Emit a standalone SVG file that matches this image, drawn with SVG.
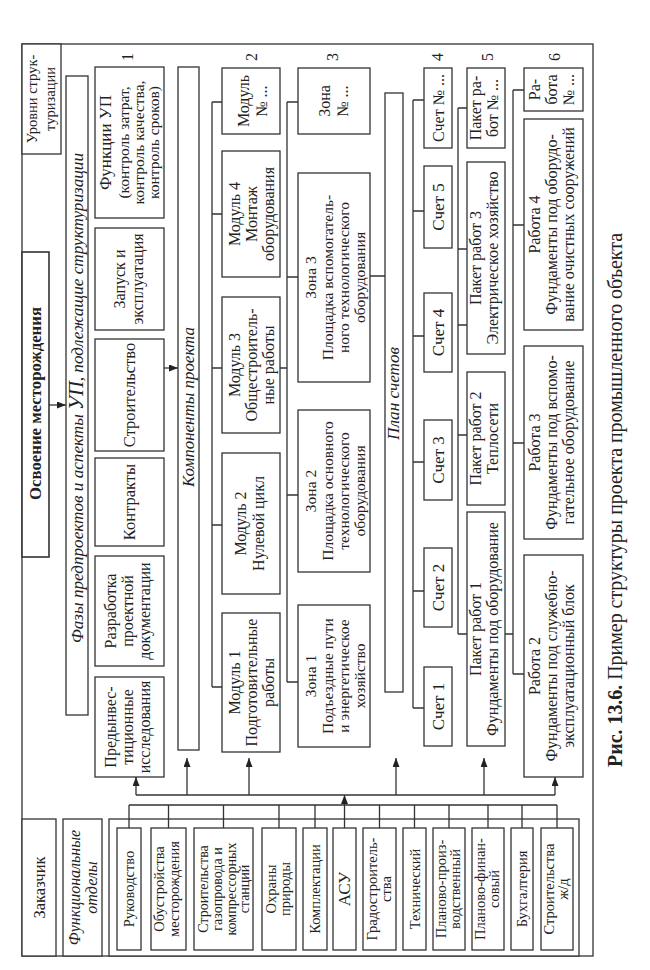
<svg xmlns="http://www.w3.org/2000/svg" width="650" height="970" viewBox="0 0 650 970">
<defs>
<style>
.b{fill:#fff;stroke:#333;stroke-width:1.3}
.c{fill:none;stroke:#333;stroke-width:1.3}
.r{font-family:"Liberation Serif","Times New Roman",serif;fill:#222;text-anchor:middle;font-size:16px}
.r path,.r rect{fill:#fff}
.r .c{fill:none}
.i{font-style:italic;font-size:17.5px}
.d{font-size:14.5px}
.s{font-size:14px}
.z{font-size:15.5px}
</style>
<marker id="ah" viewBox="0 0 9 7" refX="9" refY="3.5" markerWidth="9" markerHeight="7" markerUnits="userSpaceOnUse" orient="auto"><path d="M0,0 L9,3.5 L0,7 z" fill="#222"/></marker>
</defs>
<rect width="650" height="970" fill="#fff"/>
<g class="r" transform="translate(0,970) rotate(-90)">
<rect class="b" x="14" y="22" width="912" height="571" style="fill:none"/>
<g id="levels"><rect class="b" x="816" y="22" width="110" height="39"/><text x="871" y="37" font-size="14.5">Уровни струк-</text><text x="871" y="55" font-size="14.5">туризации</text></g>
<g id="nums"><text x="913" y="133">1</text><text x="913" y="257">2</text><text x="913" y="338">3</text><text x="913" y="443">4</text><text x="913" y="493">5</text><text x="913" y="560">6</text></g>
<g id="osvoenie"><rect class="b" x="413" y="22" width="305" height="27" style="stroke-width:1.6"/><text x="566.5" y="41" font-weight="bold" font-size="16.5" textLength="193" lengthAdjust="spacingAndGlyphs">Освоение месторождения</text></g>
<g id="phases"><rect class="b" x="255" y="66" width="639" height="22"/><text x="572" y="83" font-style="italic" font-size="17.5" textLength="490" lengthAdjust="spacingAndGlyphs">Фазы предпроектов и аспекты <tspan font-size="21">УП</tspan>, подлежащие структуризации</text></g>
<g id="funcs"><rect class="b" x="752" y="95" width="151" height="69"/><text x="827.5" y="111" font-size="17">Функции УП</text><text x="827.5" y="129" font-size="15.5">(контроль затрат,</text><text x="827.5" y="144" font-size="15.5">контроль качества,</text><text x="827.5" y="159" font-size="15.5">контроль сроков)</text></g>
<g id="zapusk"><rect class="b" x="640" y="95" width="102" height="69"/><text x="691" y="125">Запуск и</text><text x="691" y="143">эксплуатация</text></g>
<g id="stroit"><rect class="b" x="519" y="95" width="112" height="69"/><text x="575" y="135" font-size="16.5">Строительство</text></g>
<g id="kontr"><rect class="b" x="424" y="95" width="88" height="69"/><text x="468" y="135" font-size="16.5">Контракты</text></g>
<g id="razrab"><rect class="b" x="304" y="95" width="110" height="69"/><text x="359" y="116">Разработка</text><text x="359" y="133">проектной</text><text x="359" y="150">документации</text></g>
<g id="predinv"><rect class="b" x="193" y="95" width="100" height="69"/><text x="243" y="116">Предынвес-</text><text x="243" y="133">тиционные</text><text x="243" y="150">исследования</text></g>
<g id="components"><rect class="b" x="220" y="178" width="683" height="21"/><text class="i" x="563" y="194" textLength="160" lengthAdjust="spacingAndGlyphs">Компоненты проекта</text></g>
<g id="modN"><rect class="b" x="836" y="222" width="66" height="58"/><text x="869" y="249">Модуль</text><text x="869" y="267">№ ...</text></g>
<g id="mod4"><rect class="b" x="693" y="222" width="126" height="58"/><text x="756" y="240">Модуль 4</text><text x="756" y="257">Монтаж</text><text x="756" y="274">оборудования</text></g>
<g id="mod3"><rect class="b" x="537" y="222" width="136" height="58"/><text x="605" y="240">Модуль 3</text><text x="605" y="257">Общестроитель-</text><text x="605" y="274">ные работы</text></g>
<g id="mod2"><rect class="b" x="376" y="222" width="141" height="58"/><text x="446.5" y="246">Модуль 2</text><text x="446.5" y="264">Нулевой цикл</text></g>
<g id="mod1"><rect class="b" x="218" y="222" width="139" height="58"/><text x="287.5" y="240">Модуль 1</text><text x="287.5" y="257">Подготовительные</text><text x="287.5" y="274">работы</text></g>
<g id="zoneN"><rect class="b" x="836" y="298" width="66" height="72"/><text x="869" y="330">Зона</text><text x="869" y="348">№ ...</text></g>
<g id="zone3"><rect class="b" x="588" y="298" width="209" height="72"/><text class="z" x="692.5" y="316">Зона 3</text><text class="z" x="692.5" y="333">Площадка вспомогатель-</text><text class="z" x="692.5" y="349">ного технологического</text><text class="z" x="692.5" y="365">оборудования</text></g>
<g id="zone2"><rect class="b" x="398" y="298" width="162" height="72"/><text class="z" x="479" y="316">Зона 2</text><text class="z" x="479" y="333">Площадка основного</text><text class="z" x="479" y="349">технологического</text><text class="z" x="479" y="365">оборудования</text></g>
<g id="zone1"><rect class="b" x="223" y="298" width="142" height="72"/><text class="z" x="294" y="316">Зона 1</text><text class="z" x="294" y="333">Подъездные пути</text><text class="z" x="294" y="349">и энергетическое</text><text class="z" x="294" y="365">хозяйство</text></g>
<g id="plan"><rect class="b" x="278" y="385" width="599" height="18"/><text class="i" x="576.5" y="399" textLength="93" lengthAdjust="spacingAndGlyphs">План счетов</text></g>
<g id="accN"><rect class="b" x="822" y="424" width="80" height="28"/><text x="862" y="444">Счет № ...</text></g>
<g id="acc5"><rect class="b" x="722" y="424" width="82" height="28"/><text x="763" y="444" font-size="17">Счет 5</text></g>
<g id="acc4"><rect class="b" x="598" y="424" width="79" height="28"/><text x="637.5" y="444" font-size="17">Счет 4</text></g>
<g id="acc3"><rect class="b" x="470" y="424" width="80" height="28"/><text x="510" y="444" font-size="17">Счет 3</text></g>
<g id="acc2"><rect class="b" x="343" y="424" width="79" height="28"/><text x="382.5" y="444" font-size="17">Счет 2</text></g>
<g id="acc1"><rect class="b" x="224" y="424" width="79" height="28"/><text x="263.5" y="444" font-size="17">Счет 1</text></g>
<g id="pakN"><rect class="b" x="822" y="467" width="80" height="38"/><text x="862" y="481">Пакет ра-</text><text x="862" y="498">бот № ...</text></g>
<g id="pak3"><rect class="b" x="616" y="467" width="192" height="38"/><text x="712" y="481">Пакет работ 3</text><text x="712" y="498">Электрическое хозяйство</text></g>
<g id="pak2"><rect class="b" x="465" y="467" width="133" height="38"/><text x="531.5" y="481">Пакет работ 2</text><text x="531.5" y="498">Теплосети</text></g>
<g id="pak1"><rect class="b" x="224" y="467" width="234" height="38"/><text x="341" y="481">Пакет работ 1</text><text x="341" y="498">Фундаменты под оборудование</text></g>
<g id="workN"><rect class="b" x="859" y="524" width="43" height="59"/><text x="880.5" y="540">Ра-</text><text x="880.5" y="557">бота</text><text x="880.5" y="574">№ ...</text></g>
<g id="work4"><rect class="b" x="640" y="524" width="211" height="59"/><text x="745.5" y="540">Работа 4</text><text x="745.5" y="557">Фундаменты под оборудо-</text><text x="745.5" y="574">вание очистных сооружений</text></g>
<g id="work3"><rect class="b" x="431" y="524" width="193" height="59"/><text x="527.5" y="540">Работа 3</text><text x="527.5" y="557">Фундаменты под вспомо-</text><text x="527.5" y="574">гательное оборудование</text></g>
<g id="work2"><rect class="b" x="193" y="524" width="222" height="59"/><text x="304" y="540">Работа 2</text><text x="304" y="557">Фундаменты под служебно-</text><text x="304" y="574">эксплуатационный блок</text></g>
<g id="customer"><rect class="b" x="14" y="22" width="137" height="34"/><text x="82.5" y="45" font-size="16.5">Заказчик</text></g>
<g id="funcdep"><rect class="b" x="14" y="63" width="137" height="39"/><text x="82.5" y="80" font-style="italic">Функциональные</text><text x="82.5" y="97" font-style="italic">отделы</text></g>
<g id="deps"><rect class="b" x="14" y="109" width="137" height="470"/></g>
<g id="d1"><rect class="b" x="20" y="117" width="122" height="24"/><text class="d" x="81" y="134">Руководство</text></g>
<g id="d2"><rect class="b" x="20" y="151" width="122" height="35"/><text class="d" x="81" y="164">Обустройства</text><text class="d" x="81" y="179">месторождения</text></g>
<g id="d3"><rect class="b" x="20" y="194" width="122" height="59"/><text class="s" x="81" y="208">Строительства</text><text class="s" x="81" y="222">газопровода и</text><text class="s" x="81" y="236">компрессорных</text><text class="s" x="81" y="249">станций</text></g>
<g id="d4"><rect class="b" x="20" y="262" width="122" height="34"/><text class="d" x="81" y="276">Охраны</text><text class="d" x="81" y="290">природы</text></g>
<g id="d5"><rect class="b" x="20" y="303" width="122" height="24"/><text class="d" x="81" y="320">Комплектации</text></g>
<g id="d6"><rect class="b" x="20" y="333" width="122" height="23"/><text x="81" y="350" font-size="17">АСУ</text></g>
<g id="d7"><rect class="b" x="20" y="363" width="122" height="33"/><text class="d" x="81" y="377">Градостроитель-</text><text class="d" x="81" y="391">ства</text></g>
<g id="d8"><rect class="b" x="20" y="403" width="122" height="23"/><text class="d" x="81" y="420">Технический</text></g>
<g id="d9"><rect class="b" x="20" y="433" width="122" height="32"/><text class="d" x="81" y="446">Планово-произ-</text><text class="d" x="81" y="460">водственный</text></g>
<g id="d10"><rect class="b" x="20" y="472" width="122" height="32"/><text class="d" x="81" y="485">Планово-финан-</text><text class="d" x="81" y="499">совый</text></g>
<g id="d11"><rect class="b" x="20" y="511" width="122" height="22"/><text class="d" x="81" y="527">Бухгалтерия</text></g>
<g id="d12"><rect class="b" x="20" y="541" width="122" height="32"/><text class="d" x="81" y="554">Строительства</text><text class="d" x="81" y="568">ж/д</text></g>
<g id="connectors">
<path class="c" d="M565,49 V66" marker-end="url(#ah)"/>
<path class="c" d="M602,164 V178" marker-end="url(#ah)"/>
<path class="c" d="M283,212 H868 M868,212 V222 M756,212 V222 M602,212 V222 M445,212 V222 M283,212 V222 M602,280 V287"/>
<path class="c" d="M288,287 H868 M868,287 V298 M693,287 V298 M475,287 V298 M288,287 V298 M694,370 V385"/>
<path class="c" d="M262,413 H870 M870,413 V424 M759,413 V424 M634,413 V424 M508,413 V424 M379,413 V424 M262,413 V424"/>
<path class="c" d="M336,458 H862 M862,458 V467 M721,458 V467 M645,458 V467 M535,458 V467 M336,458 V467 M336,505 V513"/>
<path class="c" d="M296,513 H880 M880,513 V524 M745,513 V524 M527,513 V524 M296,513 V524"/>
<path class="c" d="M165,129 V557 M142,129 H165 M142,168.5 H165 M142,223.5 H165 M142,279 H165 M142,315 H165 M142,379.5 H165 M142,414.5 H165 M142,449 H165 M142,488 H165 M142,522 H165 M142,557 H165"/>
<path class="c" d="M142,344.5 H175" marker-end="url(#ah)"/>
<path class="c" d="M175,136 V555"/>
<path class="c" d="M175,136 H193" marker-end="url(#ah)"/>
<path class="c" d="M175,187 H212" marker-end="url(#ah)"/>
<path class="c" d="M175,249 H212" marker-end="url(#ah)"/>
<path class="c" d="M175,396 H212" marker-end="url(#ah)"/>
<path class="c" d="M175,484 H212" marker-end="url(#ah)"/>
<path class="c" d="M175,555 H193" marker-end="url(#ah)"/>
</g>
<g id="caption"><text x="203" y="622" font-size="20" text-anchor="start" textLength="534" lengthAdjust="spacingAndGlyphs"><tspan font-weight="bold">Рис. 13.6.</tspan> Пример структуры проекта промышленного объекта</text></g>
</g>
</svg>
